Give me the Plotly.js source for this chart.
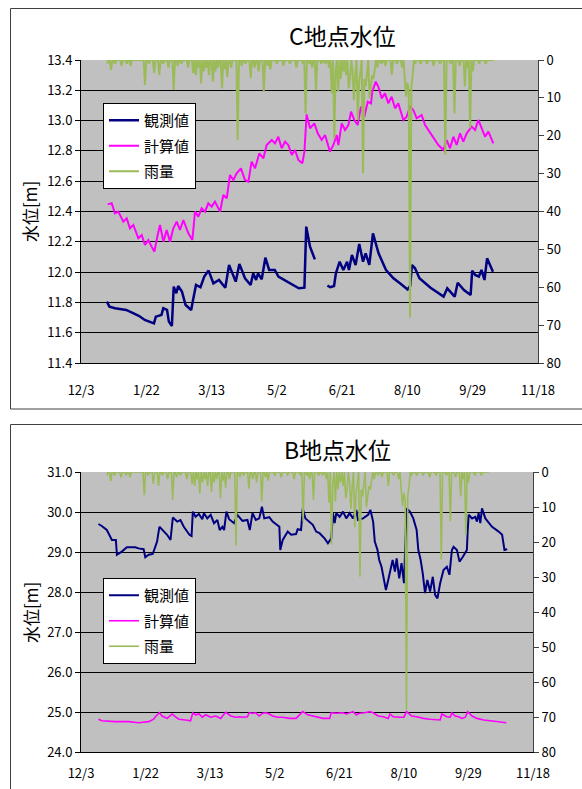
<!DOCTYPE html>
<html><head><meta charset="utf-8">
<script src="https://cdn.plot.ly/plotly-3.0.1.min.js"></script>
<style>html,body{margin:0;padding:0;background:#fff;}#chart{width:582px;height:789px;}</style>
</head><body><div id="chart"></div>
<script>
// ---- data (day offsets counted from 2006-12-03) ----
const BASE_DATE = Date.UTC(2006, 11, 3);
const xStart = '2006-12-03', xEnd = '2007-11-18';
const seriesNames = ['観測値', '計算値', '雨量'];
const titleC = 'C地点水位', titleB = 'B地点水位', yTitle = '水位[m]';

// daily rainfall (mm) starting at day 20
const rainStartDay = 20;
const rain = [
 1,0,0,2.6,0,0,1,0,0,0,
 0,1.5,0,0,0,1,0,0,1.5,0,
 0,0,0,0,0,0,0,0,0,6.6,
 0,0,1,0,0,0,3.4,0,0,0,
 4,0,0,1,0,0,0,2,0,0,
 0,7.9,0,0,1.5,0,0,1,0,0,
 0,0,2,0,0,0,3.5,0,4,0,
 2,0,6.2,0,3,0,2,0,4,0,
 0,5.7,0,3,0,2,0,0,7.5,0,
 2.5,0,4.5,0,0,2,0,0,0,0,
 21.1,0,0,1.5,0,0,1,0,0,0,
 4.8,0,0,2,0,0,3,0,0,0,
 8.4,0,0,1.5,0,2.5,0,0,0,0,
 1,0,0,0,0,1.5,0,0,0,0,
 1,0,0,0,0,2,0,0,0,0,
 1,0,14.1,0,0,1,0,2,0,0,
 7.9,0,0,0,1,0,0,1,0,0,
 2,0,8.8,0,20.7,3,0,8.4,0,5,
 0,3,0,4,0,7.5,5,0,3,10.6,
 4,0,15.8,6,3,0,29.9,5,7,4,
 0,10.1,6,4,5,3,0,2,0,0,
 1,0,0,1.5,0,0,0,0,4,0,
 0,0,1,0,0,0,2,0,5,9.7,
 6,8,68,7,4,0,1,0,0,0,
 1,0,0,0,0,1,0,0,0,0,
 1.5,0,0,0,0,1,0,0,0,25,
 0,0,0,1,0,0,14.1,0,0,0,
 1.5,0,0,0,7,0,2,0,18,0,
 3,0,0,0,0,1,0,0,0,0,
 1,0,0,0,0,0,0
];

// C point observed
const cObsDays = [
 19.8,21.8,26.1,34.6,40.3,44.6,48.8,53.1,55.9,57.3,
 61.6,63.0,65.9,67.3,69.6,71.0,73.0,74.4,77.3,80.1,
 84.4,85.8,88.1,91.5,94.4,97.7,101.4,105.7,110.5,113.4,
 118.5,121.3,125.6,129.9,131.9,134.1,135.6,138.4,141.2,144.1,
 148.4,151.2,156.9,162.5,166.8,171.1,172.5,175.4,179.1,183,
 188.7,191.0,193.8,195.2,198.1,200.9,203.8,205.2,207.5,210.3,
 213.1,216.0,218.0,220.8,223.6,227.9,233.6,239.3,245.0,250.1,
 252.1,253.5,255.8,259.2,267.7,277.7,280.5,286.2,288.5,293.3,
 298.4,299.6,301.9,304.7,306.7,309.0,311.0,315.5];
const cObs = [
 11.805,11.772,11.761,11.75,11.728,11.71,11.684,11.671,11.662,11.706,
 11.717,11.761,11.75,11.673,11.644,11.904,11.86,11.908,11.871,11.783,
 11.75,11.816,11.915,11.9,11.97,12.01,11.926,11.948,11.897,12.047,
 11.937,12.054,11.959,11.915,11.992,11.948,11.992,11.952,12.095,12.014,
 12.014,11.97,11.941,11.915,11.893,11.897,12.3,12.168,12.084,null,
 11.911,11.9,11.908,11.992,12.069,12.014,12.069,12.014,12.113,12.047,
 12.186,12.069,12.124,12.047,12.256,12.124,12.014,11.959,11.922,11.886,
 11.908,12.047,12.025,11.959,11.897,11.838,11.893,11.838,11.93,11.882,
 11.849,12.01,11.981,11.97,12.014,11.948,12.091,12.003];

// C point calculated
const cCalcDays = [
 20.4,23.5,26.0,28.6,32.4,35.0,37.5,40.1,43.9,46.5,
 49.0,51.6,54.1,56.2,58.7,60.5,63.1,65.6,68.2,70.7,
 73.3,75.8,78.4,82.2,85.3,87.3,89.9,92.4,95.0,97.5,
 100.1,102.6,106.5,109.0,111.6,114.1,116.7,119.2,122.5,125.6,
 128.2,130.7,133.3,136.6,139.7,142.2,146.1,148.6,151.1,153.7,
 156.3,158.8,161.4,163.9,166.5,169.5,171.1,172.8,175.4,178.7,
 181.3,184.3,186.9,190.7,193.3,195.8,197.1,199.7,202.2,204.8,
 206.8,209.3,211.9,214.4,217.0,219.6,222.1,223.1,225.7,227.7,
 230.3,232.8,235.4,237.9,240.5,243.0,246.9,249.4,252.0,254.5,
 257.1,260.9,263.5,266.0,268.6,271.1,273.7,277.5,280.1,282.6,
 285.2,287.7,290.3,292.8,295.4,299.2,301.8,304.3,306.9,309.4,
 312.0,315.8];
const cCalc = [
 12.447,12.454,12.388,12.399,12.333,12.355,12.289,12.311,12.223,12.245,
 12.179,12.212,12.168,12.135,12.245,12.311,12.201,12.278,12.201,12.289,
 12.333,12.278,12.344,12.256,12.212,12.399,12.366,12.421,12.399,12.454,
 12.432,12.465,12.399,12.509,12.487,12.641,12.608,12.652,12.685,12.608,
 12.597,12.729,12.685,12.784,12.751,12.839,12.872,12.85,12.894,12.817,
 12.861,12.839,12.773,12.806,12.74,12.718,12.795,13.041,12.949,12.982,
 12.916,12.872,12.905,12.795,12.839,12.905,12.839,12.982,12.938,12.971,
 13.059,13.004,12.971,13.092,13.026,13.125,13.114,13.191,13.257,13.224,
 13.147,13.18,13.114,13.158,13.081,13.114,13.004,13.026,13.092,13.07,
 13.015,13.037,12.971,12.938,12.905,12.872,12.839,12.806,12.872,12.817,
 12.894,12.839,12.916,12.861,12.916,12.96,12.938,13.004,12.949,12.894,
 12.927,12.85];

// B point observed
const bObsDays = [
 13.5,16.1,20.0,22.6,23.9,27.0,27.8,31.6,35.5,42.0,
 44.6,48.5,49.8,52.4,55.5,57.1,58.9,60.7,62.8,66.7,
 69.3,71.1,74.5,77.0,79.6,84.0,85.6,86.6,88.7,91.3,
 93.9,95.2,97.8,100.4,103.0,105.6,107.4,109.5,110.8,112.6,
 114.7,118.5,121.1,125.0,128.9,130.7,132.8,135.4,138.0,140.1,
 141.9,145.8,148.4,153.6,154.3,156.2,160.1,162.7,166.5,167.8,
 170.4,171.7,173.8,179.5,182.1,184.7,188.6,191.2,193.8,195.1,
 196.4,197.7,200.3,202.9,205.4,208.0,210.6,213.2,214.5,218.4,
 222.3,224.1,226.2,227.5,229.6,230.9,232.7,234.0,236.1,237.9,
 239.7,241.3,243.1,244.4,246.4,248.2,250.1,250.8,252.1,254.7,
 257.3,259.9,261.2,263.0,264.6,266.4,268.2,270.3,272.4,274.2,
 276.0,278.1,280.7,283.3,285.3,287.2,288.5,291.1,293.1,295.7,
 298.8,299.4,300.2,302.8,305.3,306.6,307.9,309.2,310.5,313.1,
 318.3,323.4,326.1,327.9,330.0];
const bObs = [
 29.7,29.65,29.55,29.38,29.3,29.3,28.93,29.01,29.12,29.12,
 29.09,29.07,28.87,28.93,28.95,29.09,29.26,29.63,29.55,29.43,
 29.3,29.86,29.76,29.8,29.63,29.43,29.4,30.01,29.88,29.95,
 29.82,29.97,29.84,29.93,29.72,29.8,29.55,29.63,29.55,30.01,
 29.82,29.72,29.93,29.78,29.8,29.55,29.97,29.8,29.84,30.13,
 29.84,29.87,29.76,29.63,29.05,29.3,29.51,29.43,29.45,29.57,
 29.55,30.09,29.84,29.68,29.51,29.47,29.34,29.22,29.34,29.97,
 29.72,29.97,29.88,30.01,29.84,29.97,29.84,30.05,29.8,29.84,
 29.93,30.05,29.76,29.26,29.05,28.8,28.63,28.38,28.05,28.3,
 28.55,28.8,28.51,28.84,28.34,28.72,28.22,28.8,30.09,30.01,
 29.84,29.55,29.05,28.8,28.47,27.97,28.3,28.01,28.38,27.93,
 27.84,28.22,28.55,28.63,28.43,29.05,29.13,29.05,28.76,28.88,
 29.05,29.51,29.93,29.84,29.88,29.76,29.97,29.72,30.09,29.84,
 29.63,29.51,29.43,29.05,29.07];

// B point calculated
const bCalcDays = [
 13.5,16.1,26.5,36.8,44.6,52.4,56.3,57.6,60.7,62.8,
 66.7,70.6,73.2,75.8,80.9,84.8,86.6,88.7,91.3,93.9,
 96.5,100.4,104.3,108.2,110.8,112.1,116.0,119.8,123.0,125.0,
 128.9,130.2,132.8,135.4,138.0,140.6,143.2,145.8,148.4,152.3,
 156.2,161.4,166.5,167.8,171.7,175.6,179.5,183.4,187.3,192.5,
 193.8,197.7,202.9,205.4,208.0,210.6,213.2,215.8,219.7,223.6,
 226.2,230.1,234.0,237.9,239.2,241.8,247.0,250.1,252.1,256.0,
 259.9,265.1,270.3,275.5,278.1,279.4,283.3,285.9,287.2,289.8,
 292.4,295.0,297.6,299.4,302.8,306.6,311.8,317.0,322.2,326.1,
 329.4];
const bCalc = [
 24.82,24.78,24.76,24.76,24.73,24.76,24.82,24.88,24.98,24.9,
 24.84,24.95,24.88,24.82,24.8,24.78,24.98,24.93,24.95,24.87,
 24.93,24.87,24.9,24.84,24.95,24.99,24.9,24.87,24.88,24.87,
 24.88,24.98,24.97,24.98,24.9,24.97,24.98,24.95,24.9,24.87,
 24.87,24.84,24.84,24.88,25.01,24.93,24.9,24.87,24.84,24.84,
 24.98,24.97,24.98,24.95,24.98,25.01,24.93,24.97,24.98,25.01,
 24.98,24.9,24.88,24.84,24.95,24.88,24.87,24.87,25.01,24.9,
 24.88,24.84,24.82,24.8,24.8,24.95,24.88,24.87,24.98,24.9,
 24.88,24.84,24.87,25.01,24.9,24.84,24.8,24.78,24.76,24.76,
 24.73];

// ---- helpers ----
function toDate(d){ return new Date(BASE_DATE + d*86400000).toISOString().replace('T',' ').slice(0,19); }
const rainDates = rain.map((_, i) => toDate(rainStartDay + i));
const W = 582, H = 789;
const fx = x => x / W, fy = y => 1 - y / H;

const cNavy = '#000080', cPink = '#ff00ff', cGreen = '#9bbb59';
const FONT = '"Noto Sans CJK JP", "Noto Sans", sans-serif';

const traces = [
 {x: cObsDays.map(toDate), y: cObs, name: seriesNames[0], type:'scatter', mode:'lines', line:{color:cNavy, width:2.5}, xaxis:'x', yaxis:'y', legend:'legend', legendgroup:'a', connectgaps:false},
 {x: cCalcDays.map(toDate), y: cCalc, name: seriesNames[1], type:'scatter', mode:'lines', line:{color:cPink, width:2}, xaxis:'x', yaxis:'y', legend:'legend', legendgroup:'b'},
 {x: rainDates, y: rain, name: seriesNames[2], type:'scatter', mode:'lines', line:{color:cGreen, width:2}, xaxis:'x', yaxis:'y2', legend:'legend', legendgroup:'c'},
 {x: bObsDays.map(toDate), y: bObs, name: seriesNames[0], type:'scatter', mode:'lines', line:{color:cNavy, width:2}, xaxis:'x2', yaxis:'y3', legend:'legend2', legendgroup:'d'},
 {x: bCalcDays.map(toDate), y: bCalc, name: seriesNames[1], type:'scatter', mode:'lines', line:{color:cPink, width:1.6}, xaxis:'x2', yaxis:'y3', legend:'legend2', legendgroup:'e'},
 {x: rainDates, y: rain, name: seriesNames[2], type:'scatter', mode:'lines', line:{color:cGreen, width:1.6}, xaxis:'x2', yaxis:'y4', legend:'legend2', legendgroup:'f'}
];

const tickF = {family: FONT, size: 13, color:'#000'};
function xAxis(dom, anchor, standoff){
 return {domain: dom, anchor: anchor, type:'date', range:[xStart, xEnd], tick0: xStart, dtick: 50*86400000,
  tickformat:'%-m/%-d', ticks:'', showgrid:false, showline:true, linecolor:'#000', linewidth:1,
  tickfont: tickF, ticklabelstandoff: standoff, zeroline:false, fixedrange:true};
}
function yLeft(dom, anchor, range, dtick){
 return {domain: dom, anchor: anchor, range: range, dtick: dtick, tickformat:'.1f', showgrid:true, gridcolor:'#000', gridwidth:1,
  ticks:'outside', ticklen:5, tickcolor:'#000', showline:true, linecolor:'#000', zeroline:false, tickfont: tickF};
}
function yRight(over, anchor){
 return {overlaying: over, anchor: anchor, side:'right', range:[80,0], dtick:10, showgrid:false, ticks:'outside', ticklen:5,
  tickcolor:'#404040', showline:true, linecolor:'#404040', zeroline:false, tickfont: tickF};
}
const legendBase = {xanchor:'left', yanchor:'top', bgcolor:'#fff', bordercolor:'#000', borderwidth:1,
 font:{family: FONT, size:15, color:'#000'}, tracegroupgap:3, itemwidth:30};

const layout = {
 width: W, height: H, margin:{l:0, r:0, t:0, b:0}, paper_bgcolor:'#fff', plot_bgcolor:'#c0c0c0',
 font:{family: FONT, color:'#000'}, showlegend:true,
 xaxis: xAxis([fx(81), fx(538)], 'y', 15),
 yaxis: yLeft([fy(363), fy(60)], 'x', [11.4, 13.4], 0.2),
 yaxis2: yRight('y', 'x'),
 xaxis2: xAxis([fx(81), fx(533)], 'y3', 9),
 yaxis3: yLeft([fy(752), fy(472)], 'x2', [24, 31], 1),
 yaxis4: yRight('y3', 'x2'),
 legend: Object.assign({x: fx(103), y: fy(103)}, legendBase),
 legend2: Object.assign({x: fx(103), y: fy(578)}, legendBase),
 annotations: [
  {text: titleC, xref:'paper', yref:'paper', x: fx(342), y: fy(35), showarrow:false, font:{family: FONT, size:23, color:'#000'}, xanchor:'center', yanchor:'middle'},
  {text: titleB, xref:'paper', yref:'paper', x: fx(337), y: fy(449), showarrow:false, font:{family: FONT, size:23, color:'#000'}, xanchor:'center', yanchor:'middle'},
  {text: yTitle, xref:'paper', yref:'paper', x: fx(30), y: fy(212), textangle:-90, showarrow:false, font:{family: FONT, size:17, color:'#000'}, xanchor:'center', yanchor:'middle'},
  {text: yTitle, xref:'paper', yref:'paper', x: fx(30), y: fy(613), textangle:-90, showarrow:false, font:{family: FONT, size:17, color:'#000'}, xanchor:'center', yanchor:'middle'}
 ],
 shapes: [
  {type:'rect', xref:'paper', yref:'paper', x0: fx(10.5), x1: 1.1, y0: fy(409), y1: fy(8.5), line:{color:'#404040', width:1}, fillcolor:'rgba(0,0,0,0)', layer:'below'},
  {type:'rect', xref:'paper', yref:'paper', x0: fx(10.5), x1: 1.1, y0: -0.1, y1: fy(424.5), line:{color:'#404040', width:1}, fillcolor:'rgba(0,0,0,0)', layer:'below'}
 ]
};

Plotly.newPlot('chart', traces, layout, {staticPlot:true, displayModeBar:false});
</script></body></html>
